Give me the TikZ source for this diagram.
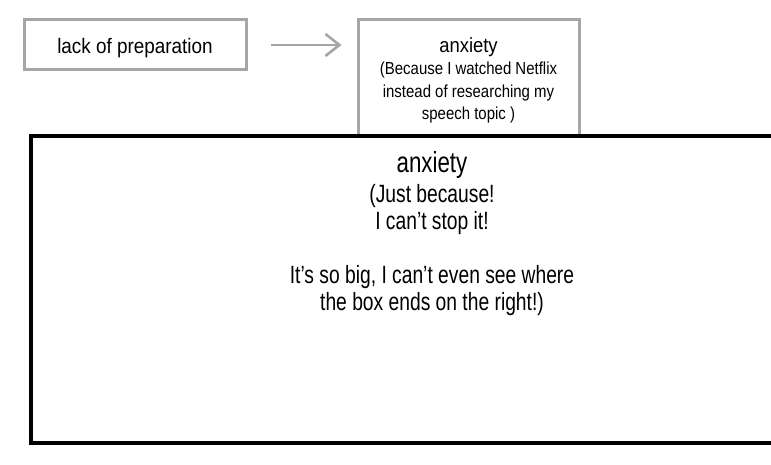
\documentclass[tikz,border=0pt]{standalone}
\usepackage{fontspec}
\setmainfont{Liberation Sans}
\newfontfamily\fA[FakeStretch=0.9]{Liberation Sans}
\newfontfamily\fB[FakeStretch=0.86]{Liberation Sans}
\newfontfamily\fC[FakeStretch=0.77]{Liberation Sans}
\usetikzlibrary{arrows.meta}
\definecolor{boxgray}{HTML}{A6A6A6}
\begin{document}
\begin{tikzpicture}[x=1pt,y=-1pt,
  graybox/.style={draw=boxgray,line width=3pt,fill=white,inner sep=0pt,align=center},
  bigbox/.style={draw=black,line width=3.5pt,fill=white,inner sep=0pt},
  conn/.style={draw=boxgray,line width=2.6pt,-{Straight Barb[length=14pt,width=22pt]}}]
\useasboundingbox (0,0) rectangle (771,465);
\clip (0,0) rectangle (771,465);
\node[graybox,minimum width=222pt,minimum height=50pt,text depth=0pt,
  font=\fA\fontsize{21}{24}\selectfont] (prep) at (135,45)
  {\raisebox{-2pt}{lack of preparation}};
\node[graybox,minimum width=221pt,minimum height=116pt,
  font=\fB\fontsize{17.4}{22.3}\selectfont] (anx1) at (468.5,78)
  {{\fA\fontsize{20.5}{23}\selectfont\rule{0pt}{20pt}anxiety}\\[-0.5pt]
   (Because I watched Netflix\\
   instead of researching my\\
   speech topic )};
\draw[conn,shorten <=23pt,shorten >=15pt] (prep.east) -- (anx1.west |- prep.east);
\node[bigbox,minimum width=760pt,minimum height=307pt] (anx2) at (411,289.5) {};
\node[inner sep=0pt,align=center,anchor=north,
  font=\fC\fontsize{25}{27}\selectfont] (anx2text) at (432,151.5)
  {{\fC\fontsize{29}{30}\selectfont anxiety}\\[3pt]
   (Just because!\\
   I can’t stop it!\\[27pt]
   It’s so big, I can’t even see where\\
   the box ends on the right!)};
\end{tikzpicture}
\end{document}
